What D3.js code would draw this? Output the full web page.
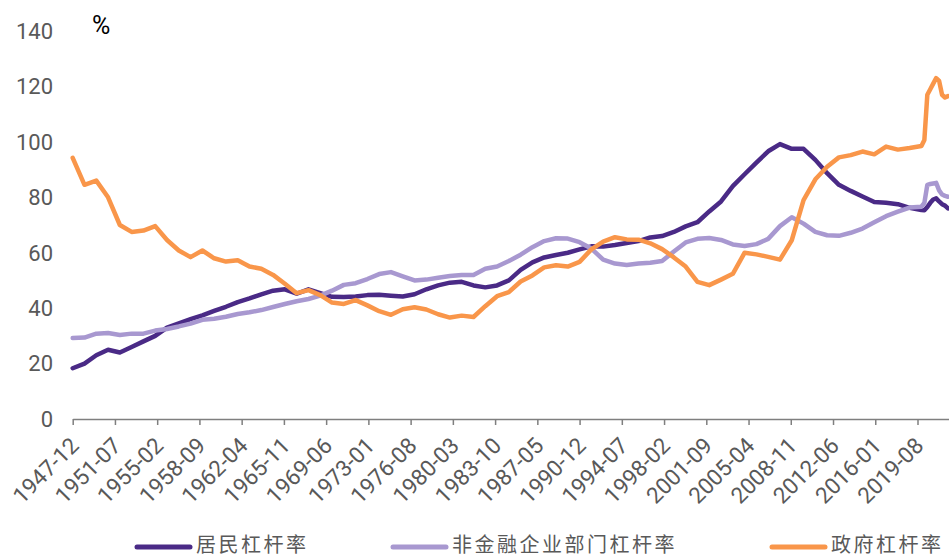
<!DOCTYPE html>
<html>
<head>
<meta charset="utf-8">
<script src="https://cdn.jsdelivr.net/npm/d3@7"></script>
<style>
  body { margin: 0; background: #fff; }
  svg { display: block; }
</style>
</head>
<body>
<script>
// year-end readings, then quarterly at the end of the series
const dates = [
  "1947-12","1948-12","1949-12","1950-12","1951-12","1952-12","1953-12","1954-12","1955-12","1956-12",
  "1957-12","1958-12","1959-12","1960-12","1961-12","1962-12","1963-12","1964-12","1965-12","1966-12",
  "1967-12","1968-12","1969-12","1970-12","1971-12","1972-12","1973-12","1974-12","1975-12","1976-12",
  "1977-12","1978-12","1979-12","1980-12","1981-12","1982-12","1983-12","1984-12","1985-12","1986-12",
  "1987-12","1988-12","1989-12","1990-12","1991-12","1992-12","1993-12","1994-12","1995-12","1996-12",
  "1997-12","1998-12","1999-12","2000-12","2001-12","2002-12","2003-12","2004-12","2005-12","2006-12",
  "2007-12","2008-12","2009-12","2010-12","2011-12","2012-12","2013-12","2014-12","2015-12","2016-12",
  "2017-12","2018-12","2019-12","2020-03","2020-06","2020-09","2020-12","2021-03","2021-06","2021-09",
  "2021-12","2022-03"
];

const household = [
  18.3, 20, 23, 25, 24, 26, 28, 30, 33, 34.5,
  36, 37.4, 39, 40.5, 42.2, 43.5, 45, 46.3, 46.8, 45.2,
  46.8, 45.4, 44.1, 44, 44.2, 44.7, 44.8, 44.5, 44.2, 45,
  46.8, 48.2, 49.2, 49.5, 48.2, 47.5, 48.2, 50, 53.8, 56.5,
  58.3, 59.2, 60, 61.2, 62.3, 62.2, 62.8, 63.5, 64.2, 65.5,
  66, 67.5, 69.5, 71, 74.9, 78.5, 84, 88.3, 92.5, 96.6,
  99.2, 97.5, 97.5, 93.5, 88.7, 84.5, 82.3, 80.3, 78.3, 78,
  77.5, 76.2, 75.4, 75.3, 76.5, 78, 79.2, 79.6, 78.5, 77.5,
  77, 76
];

const corporate = [
  29.2, 29.4, 30.8, 31, 30.3, 30.8, 30.8, 31.9, 32.5, 33.4,
  34.4, 35.8, 36.2, 36.9, 37.9, 38.5, 39.3, 40.4, 41.5, 42.5,
  43.3, 44.5, 46.3, 48.4, 49, 50.5, 52.3, 53, 51.5, 50,
  50.3, 51, 51.6, 52, 52, 54.2, 55, 57, 59.3, 62,
  64.2, 65.2, 65.1, 63.8, 61.5, 57.5, 56.1, 55.6, 56.1, 56.4,
  57, 60.4, 63.7, 65, 65.3, 64.6, 63, 62.4, 63.1, 65,
  69.6, 72.8, 70.5, 67.5, 66.3, 66.1, 67.2, 68.7, 71, 73.2,
  74.8, 76.3, 76.6, 78, 84.5, 84.8, 85, 85.2, 82.5, 81,
  80.5, 80.2
];

const government = [
  94.2, 84.5, 86, 80, 70, 67.5, 68, 69.6, 64.6, 60.8,
  58.4, 60.8, 58, 56.8, 57.3, 55, 54.2, 52, 48.8, 45.4,
  46.5, 44.7, 42, 41.5, 42.9, 41, 38.9, 37.6, 39.6, 40.3,
  39.5, 37.8, 36.6, 37.3, 36.8, 40.7, 44.3, 45.8, 49.6, 51.8,
  54.7, 55.5, 55, 56.7, 61.2, 64, 65.6, 64.8, 64.7, 63.4,
  61.3, 58.3, 55, 49.5, 48.3, 50.3, 52.4, 60, 59.4, 58.5,
  57.5, 64.5, 79, 86.5, 91, 94.4, 95.2, 96.5, 95.5, 98.3,
  97.2, 97.8, 98.5, 100.7, 117, 119, 121, 123, 122, 117,
  116, 116.5
];

const seriesNames = ["居民杠杆率", "非金融企业部门杠杆率", "政府杠杆率"];
const seriesColors = ["#4a2a86", "#a898d0", "#f9964a"];
const tickLabels = [
  "1947-12","1951-07","1955-02","1958-09","1962-04","1965-11","1969-06","1973-01","1976-08","1980-03","1983-10",
  "1987-05","1990-12","1994-07","1998-02","2001-09","2005-04","2008-11","2012-06","2016-01","2019-08"
];
const yTicks = [0, 20, 40, 60, 80, 100, 120, 140];

const W = 949, H = 560;
const axisGray = "#7f7f7f", textGray = "#595959";
const numFont = "Roboto, 'Noto Sans', sans-serif";
const cjkFont = "'Noto Sans CJK SC', sans-serif";

// months since 1947-12
function monthIdx(s) {
  const p = s.split("-");
  return (+p[0] - 1947) * 12 + (+p[1] - 12);
}

const x0 = 72.7, xTick860 = 917.5;
const xLin = d3.scaleLinear().domain([0, 860]).range([x0, xTick860]);
const x = d3.scaleLinear().domain([0, xLin.invert(W)]).range([x0, W]);
const y = d3.scaleLinear().domain([0, 140]).range([419, 31]);

const svg = d3.select("body").append("svg")
  .attr("width", W)
  .attr("height", H);

// y labels (no axis line)
svg.append("g")
  .selectAll("text")
  .data(yTicks)
  .join("text")
    .attr("x", 53)
    .attr("y", d => y(d))
    .attr("dy", "0.36em")
    .attr("text-anchor", "end")
    .attr("font-family", numFont)
    .attr("font-size", 22)
    .attr("fill", textGray)
    .text(d => d);

svg.append("text")
  .attr("x", 92)
  .attr("y", 34)
  .attr("font-family", numFont)
  .attr("font-size", 25)
  .attr("fill", "#000")
  .text("%");

// x axis
const xAxis = d3.axisBottom(x)
  .tickValues(tickLabels.map(monthIdx))
  .tickSize(6)
  .tickSizeOuter(0)
  .tickFormat((d, i) => tickLabels[i]);

const gx = svg.append("g")
  .attr("transform", "translate(0," + y(0) + ")")
  .call(xAxis);

gx.select(".domain").attr("stroke", axisGray).attr("stroke-width", 1.5);
gx.selectAll(".tick line").attr("stroke", axisGray).attr("stroke-width", 1.5);
gx.selectAll(".tick text")
  .attr("x", 0)
  .attr("y", 0)
  .attr("dy", 0)
  .attr("transform", "translate(7,28) rotate(-45)")
  .attr("text-anchor", "end")
  .attr("font-family", numFont)
  .attr("font-size", 22.5)
  .attr("fill", textGray);

// lines
const allSeries = [household, corporate, government];
const line = d3.line()
  .x((d, i) => x(monthIdx(dates[i])))
  .y(d => y(d));

svg.append("g")
  .selectAll("path")
  .data(allSeries)
  .join("path")
    .attr("d", d => line(d))
    .attr("fill", "none")
    .attr("stroke", (d, i) => seriesColors[i])
    .attr("stroke-width", 4.5)
    .attr("stroke-linejoin", "round")
    .attr("stroke-linecap", "round");

// legend
const legendX = [137, 393, 772];
const lg = svg.append("g")
  .selectAll("g")
  .data(seriesNames)
  .join("g")
    .attr("transform", (d, i) => "translate(" + legendX[i] + ",545)");

lg.append("line")
  .attr("x1", 0).attr("x2", 53)
  .attr("y1", 2).attr("y2", 2)
  .attr("stroke", (d, i) => seriesColors[i])
  .attr("stroke-width", 5)
  .attr("stroke-linecap", "round");

lg.append("text")
  .attr("x", 59)
  .attr("y", 0)
  .attr("dy", "0.36em")
  .attr("font-family", cjkFont)
  .attr("font-size", 20)
  .attr("letter-spacing", 2.5)
  .attr("fill", textGray)
  .text(d => d);
</script>
</body>
</html>
